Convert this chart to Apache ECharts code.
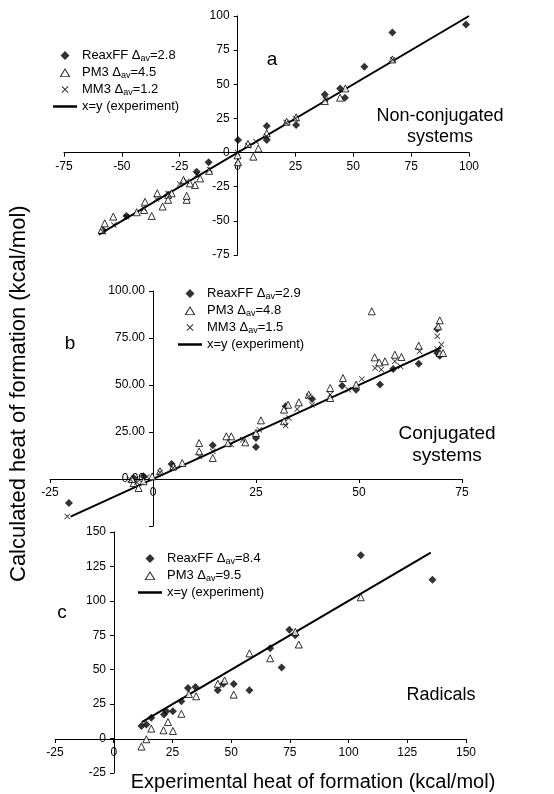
<!DOCTYPE html>
<html><head><meta charset="utf-8">
<script src="https://cdn.jsdelivr.net/npm/echarts@6/dist/echarts.min.js"></script>
<style>html,body{margin:0;padding:0;background:#fff}#c{width:554px;height:794px}</style>
</head><body><div id="c"></div>
<script>
// panel a: non-conjugated
var reaxA = [[98.7,93.8],[66.9,88],[54.8,62.8],[44.3,47],[46.4,40.2],[37.7,42.6],[25.3,20.2],[12.6,19.5],[12.6,9.2],[0.2,9.2],[-12.5,-7],[-17.7,-14],[-48,-46.4],[-30,-31],[-58,-57]];
var pm3A = [[66.9,68.2],[46.6,47],[44.3,40.2],[37.7,37.7],[25.3,25.8],[21.2,22.6],[12.6,14.1],[6.8,-3],[4.5,6.3],[0.2,-7],[0,-2],[9,3],[-12.3,-13.4],[-16.2,-18.9],[-18.4,-23.7],[-20.6,-22.5],[-22,-34.6],[-22,-31.7],[-30,-31],[-30,-34.6],[-32.4,-39.5],[-37.1,-46.4],[-40,-36],[-40.4,-42],[-43.6,-43.7],[-34.7,-29.8],[-53.7,-46.9],[-57.4,-51.8],[-58.7,-56.6],[-28.5,-29.8],[-23.4,-20]];
var mm3A = [[67,68],[38,39],[25,25],[21,22],[12.5,12],[8,8],[4.5,5],[0,0],[-12,-12.5],[-17.5,-16],[-22,-21],[-25,-23],[-30,-30],[-35,-34],[-40.5,-41],[-48,-47],[-53.5,-53],[-58,-58]];
var lineA = [[-60,-60],[100,100]];
// panel b: conjugated
var reaxB = [[-20.4,-12.8],[69,79.8],[69,67],[69.6,65.6],[64.5,61.3],[58.3,58.5],[55.1,50.2],[49.3,47.5],[45.9,49.6],[38.6,42.6],[32.2,38.7],[25,21.8],[14.5,17.9],[25,17],[4.5,8],[-2.3,1.4],[-4.7,0.5]];
var pm3B = [[53.1,89.2],[69.6,84.4],[69.2,81.2],[69.6,67],[70.4,67],[64.5,70.9],[58.7,66.1],[60.3,64.9],[56.3,62.6],[54.9,62],[53.8,64.7],[49.3,50.2],[46.1,53.7],[43,48.4],[43,43.1],[37.8,44.9],[35.4,40.8],[32.8,39.5],[31.8,36.9],[31.8,30.7],[26.2,31.2],[25,24.5],[22.4,19.5],[19,22.7],[17.8,22.7],[18.2,19.1],[14.5,11.2],[11.2,19.1],[11.2,14.7],[7.1,8.5],[4.9,6.7],[1.7,4.1],[-0.2,1.4],[-3.5,-4.8],[-4.7,-2.1],[-2.3,-1.2],[-5.1,0]];
var mm3B = [[-20.8,-19.9],[69,75.9],[70,71.5],[69,69.1],[64.7,67.9],[60.1,59.9],[58.7,62.6],[55.4,58.2],[53.9,59],[50.7,53.2],[47.4,47.5],[43,44.9],[38.6,39.5],[37.8,44],[35,37.2],[33,32.4],[32.2,28.4],[25.8,26.2],[21.8,20.9],[19,18.3],[14.5,14.7],[11.3,12.1],[4.9,5.9],[1.7,3.5],[-1.5,1.1],[-3.9,-1.8],[-5.5,-0.4]];
var lineB = [[-20,-20],[70,70]];
// panel c: radicals
var reaxC = [[105.2,133.1],[135.7,115.3],[74.8,79.1],[77.3,75.1],[66.6,65.5],[71.5,51.6],[57.8,35],[51.1,39.6],[46.7,39.8],[44.3,35],[34.8,37.4],[31.6,36.7],[28.8,27.1],[25.2,19.9],[22.4,19.9],[21.4,17.5],[16,15.1],[13.9,10.3],[11.8,9.1]];
var pm3C = [[105.2,102.6],[77.3,77.5],[78.8,68.3],[66.6,58.3],[57.8,61.9],[51.1,31.9],[47.2,42.2],[44.3,39.8],[35.1,30.7],[32,32.4],[28.8,18],[23.1,12],[21.2,6],[25.2,5.5],[16,7.2],[13.9,-0.5],[11.8,-5.8]];
var lineC = [[12,12],[135,135]];

var FONT = 'Liberation Sans';
var crossPath = 'path://M0,1L1,0L5,4L9,0L10,1L6,5L10,9L9,10L5,6L1,10L0,9L4,5Z';
// legend icons drawn in a 24x10 box, corner specks keep the box size
var box = 'M0,0L0.01,0L0,0.01Z M24,10L23.99,10L24,9.99Z ';
var legDiamond = 'path://' + box + 'M12,0.5L16.5,5L12,9.5L7.5,5Z';
var legTri = 'path://' + box + 'M12,0.5L17.5,9.5L6.5,9.5Z M12,2.6L8.3,8.7L15.7,8.7Z';
var legCross = 'path://' + box + 'M8.5,2.2L9.2,1.5L12,4.3L14.8,1.5L15.5,2.2L12.7,5L15.5,7.8L14.8,8.5L12,5.7L9.2,8.5L8.5,7.8L11.3,5Z';
var legLine = 'path://M0,4L24,4L24,6.5L0,6.5Z';
var labels = {
  'ra': ['ReaxFF','2.8'], 'pa': ['PM3','4.5'], 'ma': ['MM3','1.2'],
  'rb': ['ReaxFF','2.9'], 'pb': ['PM3','4.8'], 'mb': ['MM3','1.5'],
  'rc': ['ReaxFF','8.4'], 'pc': ['PM3','9.5']
};

function xAx(i, min, max, interval, offset) {
  return { gridIndex: i, type: 'value', min: min, max: max, interval: interval, offset: offset,
    axisLine: { onZero: false, lineStyle: { color: '#000', width: 1 } },
    axisTick: { length: 4, lineStyle: { color: '#000' } },
    axisLabel: { fontFamily: FONT, fontSize: 12, color: '#000', margin: 8 },
    splitLine: { show: false } };
}
function yAx(i, min, max, interval, offset, fmt) {
  var a = xAx(i, min, max, interval, offset);
  if (fmt) a.axisLabel.formatter = fmt;
  return a;
}
function scat(name, i, data, kind) {
  var s = { name: name, type: 'scatter', xAxisIndex: i, yAxisIndex: i, data: data, z: 3 };
  if (kind === 'r') { s.symbol = 'diamond'; s.symbolSize = 8; s.itemStyle = { color: '#000' }; }
  if (kind === 'p') { s.symbol = 'triangle'; s.symbolSize = 7; s.itemStyle = { color: '#fff', borderColor: '#000', borderWidth: 1 }; }
  if (kind === 'm') { s.symbol = crossPath; s.symbolSize = 6; s.itemStyle = { color: '#000' }; }
  return s;
}
function line(name, i, data) {
  return { name: name, type: 'line', xAxisIndex: i, yAxisIndex: i, data: data, symbol: 'none',
    color: '#000', lineStyle: { color: '#000', width: 2 }, z: 2 };
}
function leg(names, left, top) {
  return { orient: 'vertical', left: left, top: top, itemGap: 3, itemWidth: 24, itemHeight: 10,
    selectedMode: false,
    data: names.map(function (n) {
      var c = n.charAt(0);
      var ic = c === 'l' ? legLine : c === 'p' ? legTri : c === 'm' ? legCross : legDiamond;
      return { name: n, icon: ic, itemStyle: { color: '#000', borderWidth: 0 } };
    }),
    formatter: function (n) {
      if (n.charAt(0) === 'l') return '{n|x=y (experiment)}';
      var l = labels[n];
      return '{n|' + l[0] + ' Δ}{s|av}{n|=' + l[1] + '}';
    },
    textStyle: { fontFamily: FONT, color: '#000', rich: {
      n: { fontFamily: FONT, fontSize: 13, color: '#000' },
      s: { fontFamily: FONT, fontSize: 9, color: '#000', padding: [6, 0, 0, 0] } } } };
}
function txt(x, y, s, size) {
  return { type: 'text', x: x, y: y, style: { text: s, fontFamily: FONT, fontSize: size, fill: '#000', align: 'center', verticalAlign: 'middle', lineHeight: size + 3 } };
}

var chart = echarts.init(document.getElementById('c'));
chart.setOption({
  animation: false,
  grid: [
    { left: 64, right: 85, top: 16, height: 239 },
    { left: 50, right: 92, top: 291, height: 235 },
    { left: 55, right: 88, top: 532, height: 241 }
  ],
  xAxis: [xAx(0, -75, 100, 25, -102.4), xAx(1, -25, 75, 25, -47), xAx(2, -25, 150, 25, -34)],
  yAxis: [yAx(0, -75, 100, 25, -173.6), yAx(1, -25, 100, 25, -103, function (v) { return v < 0 ? '' : v.toFixed(2); }), yAx(2, -25, 150, 25, -59)],
  legend: [leg(['ra', 'pa', 'ma', 'la'], 48, 44), leg(['rb', 'pb', 'mb', 'lb'], 173, 282), leg(['rc', 'pc', 'lc'], 133, 547)],
  series: [
    line('la', 0, lineA), scat('ra', 0, reaxA, 'r'), scat('pa', 0, pm3A, 'p'), scat('ma', 0, mm3A, 'm'),
    line('lb', 1, lineB), scat('rb', 1, reaxB, 'r'), scat('pb', 1, pm3B, 'p'), scat('mb', 1, mm3B, 'm'),
    line('lc', 2, lineC), scat('rc', 2, reaxC, 'r'), scat('pc', 2, pm3C, 'p')
  ],
  graphic: [
    txt(272, 60, 'a', 19),
    txt(440, 127, 'Non-conjugated\nsystems', 18),
    txt(70, 344, 'b', 19),
    txt(447, 445, 'Conjugated\nsystems', 19),
    txt(62, 613, 'c', 19),
    txt(441, 695, 'Radicals', 18),
    txt(313, 782, 'Experimental heat of formation (kcal/mol)', 20),
    { type: 'text', rotation: Math.PI / 2, x: 8, y: 582, style: { text: 'Calculated heat of formation (kcal/mol)', fontFamily: FONT, fontSize: 22, fill: '#000' } }
  ]
});
</script></body></html>
